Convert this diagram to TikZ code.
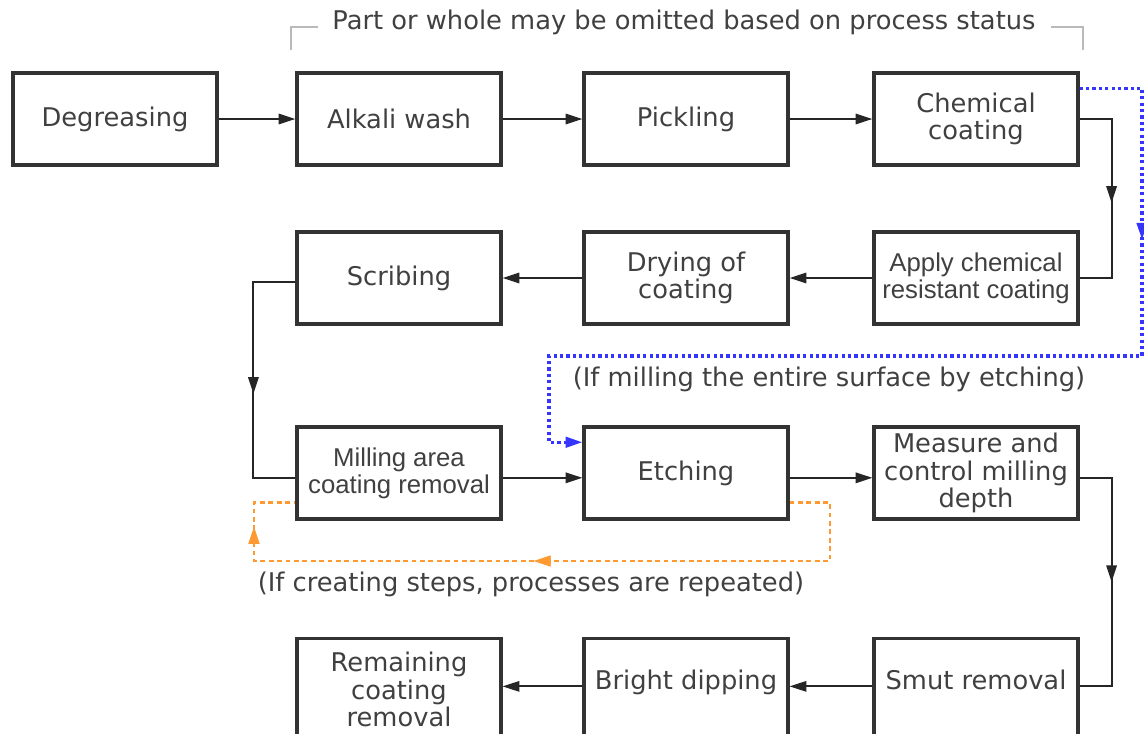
\documentclass[tikz,border=0pt]{standalone}
\usepackage{fontspec}
\setmainfont{DejaVu Sans}
\newfontfamily\narrowfont{Liberation Sans}
\usetikzlibrary{arrows.meta,decorations.markings}
\definecolor{boxline}{HTML}{333333}
\definecolor{txtgray}{HTML}{404040}
\definecolor{loopblue}{HTML}{3535FF}
\definecolor{looporange}{HTML}{FF9A33}
\begin{document}
\begin{tikzpicture}[x=0.025cm,y=-0.025cm,
    stepbox/.style={draw=boxline,
        line width=2.2pt,
        minimum width=5.1cm,
        minimum height=2.3cm,
        inner sep=1pt,
        align=center,
        text=txtgray,
        font=\fontsize{18.3}{19.4}\selectfont},
    lastrow/.style={anchor=north, minimum height=2.55cm},
    oneline/.style={text height=0.5cm, text depth=0.5cm},
    narrow/.style={font=\narrowfont\fontsize{18.3}{19.4}\selectfont},
    flow/.style={draw=black!85, line width=1.4pt},
    tip/.style={-{Triangle[length=0.42cm,width=0.26cm]}},
    midtip/.style={postaction={decorate},
        decoration={markings,
            mark=at position #1 with {\arrow{Triangle[length=0.42cm,width=0.26cm]}}}},
    note/.style={text=txtgray, font=\fontsize{18.3}{19.4}\selectfont}]
\useasboundingbox (0,0) rectangle (1144,733);

% Row 1
\node [stepbox] (degr) at (115,119) {Degreasing};
\node [stepbox] (alka) at (399,119) {Alkali wash};
\node [stepbox] (pick) at (686,119) {Pickling};
\node [stepbox] (chem) at (976,119) {Chemical\\coating};

% Row 2
\node [stepbox] (scrib) at (399,278) {Scribing};
\node [stepbox] (dry) at (686,278) {Drying of\\coating};
\node [stepbox, narrow] (resist) at (976,278) {Apply chemical\\resistant coating};

% Row 3
\node [stepbox, narrow] (mill) at (399,473) {Milling area\\coating removal};
\node [stepbox] (etch) at (686,473) {Etching};
\node [stepbox] (meas) at (976,473) {Measure and\\control milling\\depth};

% Row 4
\node [stepbox, lastrow] (remain) at (399,637) {Remaining\\coating\\removal};
\node [stepbox, lastrow, oneline] (bright) at (686,637) {Bright dipping};
\node [stepbox, lastrow, oneline] (smut) at (976,637) {Smut removal};

% Optional steps bracket
\node [note] (omit) at (684,22) {Part or whole may be omitted based on process status};
\draw [gray!55, line width=2pt] (omit.west) ++(-10,5) -- (291,27) -- (291,50);
\draw [gray!55, line width=2pt] (omit.east) ++(10,5) -- (1083,27) -- (1083,50);

% Main flow
\draw [flow, tip] (degr) -- (alka);
\draw [flow, tip] (alka) -- (pick);
\draw [flow, tip] (pick) -- (chem);
\draw [flow, midtip=0.52] (chem.east) -- ++(32,0) |- (resist.east);
\draw [flow, tip] (resist) -- (dry);
\draw [flow, tip] (dry) -- (scrib);
\draw [flow, midtip=0.55] ([yshift=-0.1cm]scrib.west) -- ++(-42,0) |- ([yshift=-0.12cm]mill.west);
\draw [flow, tip] ([yshift=-0.12cm]mill.east) -- ([yshift=-0.12cm]etch.west);
\draw [flow, tip] ([yshift=-0.12cm]etch.east) -- ([yshift=-0.12cm]meas.east -| meas.west);
\draw [flow, midtip=0.5] ([yshift=-0.12cm]meas.east) -- ++(32,0) |- ([yshift=0.08cm]smut.east);
\draw [flow, tip] ([yshift=0.08cm]smut.west) -- ([yshift=0.08cm]bright.east);
\draw [flow, tip] ([yshift=0.08cm]bright.west) -- ([yshift=0.08cm]remain.east);

% Whole surface etched
\coordinate (b1) at (1142,356);
\coordinate (b2) at (549,356);
\draw [loopblue, line width=2.3pt, dash pattern=on 0.08cm off 0.08cm, tip, midtip=0.205]
    ([yshift=-0.42cm]chem.north east) -| (b1) -- (b2) |- ([yshift=-0.42cm]etch.north west);
\node [note] (whole) at (829,379) {(If milling the entire surface by etching)};

% Repeated for steps
\coordinate (o1) at (830,561);
\coordinate (o2) at (254,561);
\draw [looporange, line width=1.6pt, dash pattern=on 0.12cm off 0.09cm, midtip=0.51, midtip=0.915]
    ([yshift=0.45cm]etch.south east) -| (o1) -- (o2) |- ([yshift=0.45cm]mill.south west);
\node [note] (repeat) at (531,584) {(If creating steps, processes are repeated)};

\end{tikzpicture}
\end{document}
